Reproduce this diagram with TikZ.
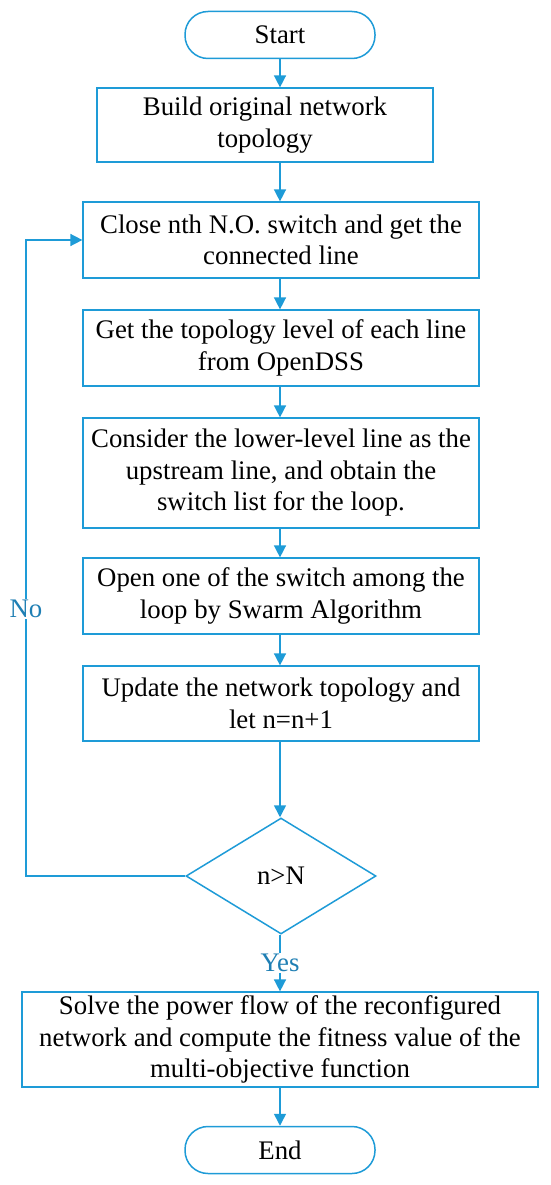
\documentclass[tikz,border=0pt]{standalone}
\usepackage{fontspec}
\setmainfont{Liberation Serif}
\usetikzlibrary{arrows.meta,shapes.geometric}
\definecolor{fc}{HTML}{1E9BD7}
\definecolor{lc}{HTML}{1F7FB4}
\begin{document}
\begin{tikzpicture}[x=1pt,y=-1pt,
  every node/.style={font=\fontsize{26.8}{31.5}\selectfont, align=center, inner sep=0pt},
  term/.style={draw=fc, line width=1.5pt, rounded corners=23pt, minimum width=190pt, minimum height=47pt},
  proc/.style={draw=fc, line width=1.2pt, minimum width=396pt, minimum height=76pt},
  dec/.style={draw=fc, line width=1.5pt, diamond, aspect=1.65, minimum width=190pt, minimum height=116pt},
  arr/.style={draw=fc, line width=1.5pt, -{Triangle[length=12pt,width=12pt]}},
  lbl/.style={text=lc, fill=white, inner sep=1pt}]
\useasboundingbox (0,0) rectangle (550,1185);
\node[term] (start) at (280,35) {Start};
\node[proc, minimum width=336pt, minimum height=74pt] (b1) at (265,125) {Build original network\\topology};
\node[proc] (b2) at (281,240) {Close nth N.O. switch and get the\\connected line};
\node[proc] (b3) at (281,348) {Get the topology level of each line\\from OpenDSS};
\node[proc, minimum height=110pt] (b4) at (281,473) {Consider the lower-level line as the\\upstream line, and obtain the\\switch list for the loop.};
\node[proc] (b5) at (281,596) {Open one of the switch among the\\loop by Swarm Algorithm};
\node[proc, minimum height=75pt] (b6) at (281,703.5) {Update the network topology and\\let n=n+1};
\node[dec] (d) at (281,876) {n>N};
\node[proc, minimum width=516pt, minimum height=95pt] (b7) at (280,1039.5) {Solve the power flow of the reconfigured\\network and compute the fitness value of the\\multi-objective function};
\node[term] (end) at (280,1150) {End};
\coordinate (fb1) at (26,876);
\coordinate (fb2) at (26,240);
\draw[arr] (start) -- (b1.north -| start);
\draw[arr] (b1.south -| start) -- (b2.north -| start);
\draw[arr] (b2.south -| start) -- (b3.north -| start);
\draw[arr] (b3.south -| start) -- (b4.north -| start);
\draw[arr] (b4.south -| start) -- (b5.north -| start);
\draw[arr] (b5.south -| start) -- (b6.north -| start);
\draw[arr] (b6.south -| start) -- (d.north -| start);
\draw[arr] (d.south -| start) -- node[lbl, pos=0.5] (yes) {Yes} (b7.north -| start);
\draw[arr] (b7.south -| start) -- (end);
\draw[arr] (d.west) -- (fb1) -- node[lbl, pos=0.42] (no) {No} (fb2) -- (b2.west);
\end{tikzpicture}
\end{document}
